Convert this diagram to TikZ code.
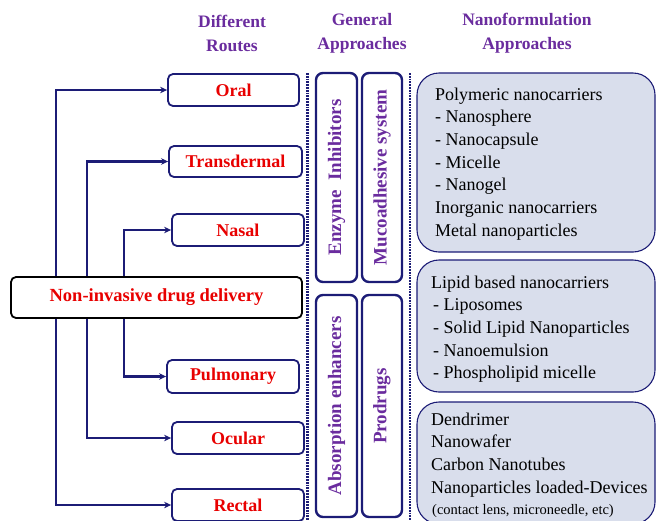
\documentclass[tikz,border=0pt]{standalone}
\usepackage{fontspec}
\setmainfont{Liberation Serif}
\usetikzlibrary{arrows.meta,calc}
\definecolor{navy}{RGB}{28,28,118}
\definecolor{hdr}{RGB}{106,44,158}
\definecolor{rte}{RGB}{232,0,0}
\definecolor{nfill}{RGB}{217,222,236}
\tikzset{
  x=1pt,y=-1pt,
  hdrtxt/.style={text=hdr,font=\fontsize{17.5}{24}\selectfont\bfseries,align=center,inner sep=0},
  route/.style={draw=navy,line width=1.8pt,rounded corners=5pt,text=rte,font=\fontsize{18}{20}\selectfont\bfseries,inner sep=0},
  mainbox/.style={route,draw=black,font=\fontsize{18.5}{20}\selectfont\bfseries},
  arr/.style={draw=navy,line width=2.2pt,-{Stealth[length=7pt,width=6.5pt]}},
  genbox/.style={draw=navy,line width=2.4pt,rounded corners=7pt,text=hdr,font=\fontsize{19}{22}\selectfont\bfseries,rotate=90,inner sep=0},
  nanobox/.style={draw=navy,fill=nfill,line width=1.1pt,rounded corners=22pt,inner sep=0},
  ntxt/.style={anchor=base west,inner sep=0,font=\fontsize{18}{22}\selectfont},
  dotline/.style={draw=navy,line width=2.4pt,dash pattern=on 1.7pt off 1.1pt},
}
\begin{document}
\begin{tikzpicture}
\useasboundingbox (0,0) rectangle (656,520);
% headers
\node[hdrtxt] (h1) at (232,33) {Different\\Routes};
\node[hdrtxt] (h2) at (362,33) {General\\Approaches};
\node[hdrtxt] (h3) at (527,33) {Nanoformulation\\Approaches};
% routes
\node[route,minimum width=131pt,minimum height=32pt] (oral) at (233.5,90) {Oral};
\node[route,minimum width=133pt,minimum height=31pt] (trans) at (235.5,161.5) {Transdermal};
\node[route,minimum width=132pt,minimum height=32pt] (nasal) at (238,230) {Nasal};
\node[mainbox,minimum width=291pt,minimum height=41pt] (main) at (156.5,297.5) {Non-invasive drug delivery};
\node[route,minimum width=132pt,minimum height=33pt] (pulm) at (233,376.5) {Pulmonary};
\node[route,minimum width=132pt,minimum height=32pt] (ocul) at (238,438) {Ocular};
\node[route,minimum width=132pt,minimum height=32pt] (rect) at (238,505) {Rectal};
% connectors
\draw[arr] ($(main.north west)+(46,0)$) |- (oral.west);
\draw[arr] ($(main.north west)+(77,0)$) |- (trans.west);
\draw[arr] ($(main.north west)+(114,0)$) |- (nasal.west);
\draw[arr] ($(main.south west)+(114,0)$) |- (pulm.west);
\draw[arr] ($(main.south west)+(77,0)$) |- (ocul.west);
\draw[arr] ($(main.south west)+(46,0)$) |- (rect.west);
% dotted separators
\coordinate (d1t) at (307.5,73); \coordinate (d1b) at (307.5,525);
\coordinate (d2t) at (410,73); \coordinate (d2b) at (410,525);
\draw[dotline] (d1t) -- (d1b);
\draw[dotline] (d2t) -- (d2b);
% general approaches
\node[genbox,minimum width=209pt,minimum height=41pt] (enz) at (336.5,177.5) {Enzyme\ \ Inhibitors};
\node[genbox,minimum width=209pt,minimum height=40pt] (muco) at (382,177.5) {Mucoadhesive system};
\node[genbox,minimum width=222pt,minimum height=41pt] (abs) at (336.5,406) {Absorption enhancers};
\node[genbox,minimum width=222pt,minimum height=40pt] (pro) at (382,406) {Prodrugs};
% nano boxes
\node[nanobox,minimum width=238pt,minimum height=179pt] (n1) at (536,162.5) {};
\node[nanobox,minimum width=238pt,minimum height=132pt] (n2) at (536,326) {};
\node[nanobox,minimum width=238pt,minimum height=122pt] (n3) at (536,463) {};
\node[ntxt] (a1) at (435,100) {Polymeric nanocarriers};
\node[ntxt] (a2) at (435,122.7) {- Nanosphere};
\node[ntxt] (a3) at (435,145.4) {- Nanocapsule};
\node[ntxt] (a4) at (435,168.1) {- Micelle};
\node[ntxt] (a5) at (435,190.8) {- Nanogel};
\node[ntxt] (a6) at (435,213.5) {Inorganic nanocarriers};
\node[ntxt] (a7) at (435,236.2) {Metal nanoparticles};
\node[ntxt] (b1) at (431,288) {Lipid based nanocarriers};
\node[ntxt] (b2) at (433,310.7) {- Liposomes};
\node[ntxt] (b3) at (433,333.4) {- Solid Lipid Nanoparticles};
\node[ntxt] (b4) at (433,356.1) {- Nanoemulsion};
\node[ntxt] (b5) at (433,378.8) {- Phospholipid micelle};
\node[ntxt] (c1) at (431,425) {Dendrimer};
\node[ntxt] (c2) at (431,447.7) {Nanowafer};
\node[ntxt] (c3) at (431,470.4) {Carbon Nanotubes};
\node[ntxt] (c4) at (431,493.1) {Nanoparticles loaded-Devices};
\node[ntxt,font=\fontsize{14.5}{18}\selectfont] (c5) at (432,514) {(contact lens, microneedle, etc)};
\end{tikzpicture}
\end{document}
